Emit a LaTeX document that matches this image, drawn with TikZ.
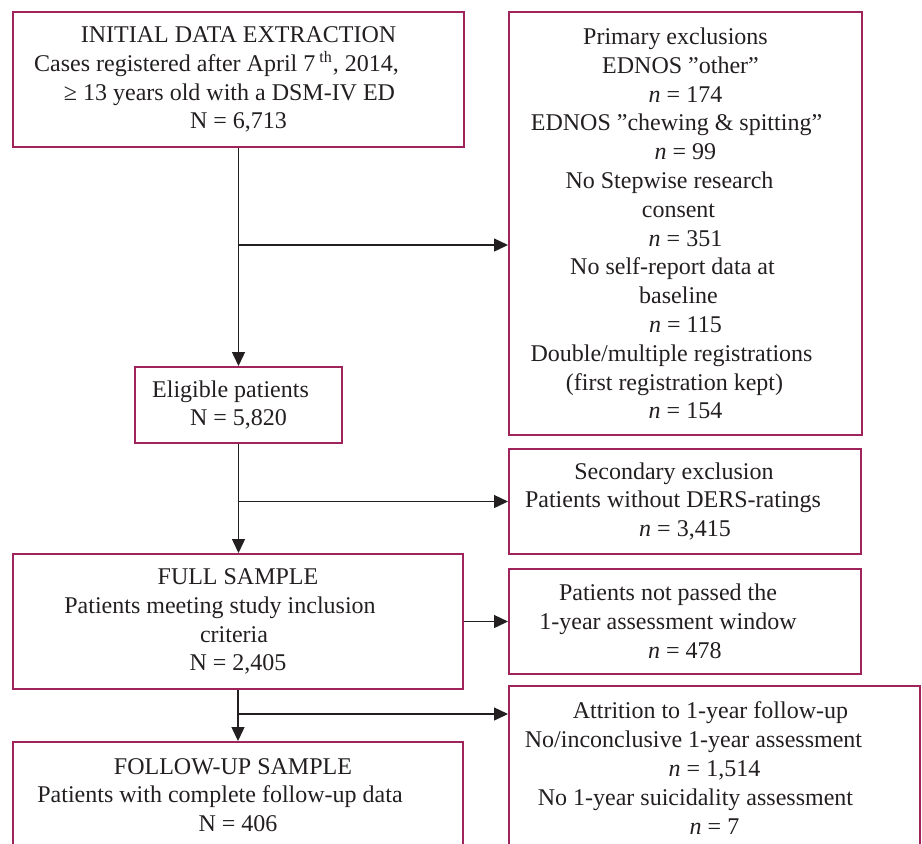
\documentclass[tikz,border=0pt]{standalone}
\usepackage{fontspec}
\setmainfont{Liberation Serif}
\usetikzlibrary{arrows.meta}
\definecolor{boxred}{RGB}{160,36,92}
\definecolor{linegray}{RGB}{35,31,32}
% a centred line pulled to the left by #1 px
\newcommand\lsh[2]{\mbox{#2\hspace*{#1pt}}}
\tikzset{
  box/.style={draw=boxred, line width=1pt, rectangle, align=center, inner sep=0pt,
    text=linegray, font=\fontsize{12}{14.4}\selectfont},
  arr/.style={draw=linegray, line width=0.7pt, -{Triangle[length=7pt,width=6.5pt]}}
}
\begin{document}
\begin{tikzpicture}[x=0.5pt,y=-0.5pt]
    \path[use as bounding box, clip] (0,0) rectangle (922,843);
    % left column
    \node[box, minimum width=225.5pt, minimum height=67.5pt] (init) at (238.5,79.5)
      {INITIAL DATA EXTRACTION\\ \lsh{22}{Cases registered after April 7\,\textsuperscript{th}, 2014,}\\ \lsh{9}{≥ 13 years old with a DSM-IV ED}\\ N = 6,713};
    \node[box, minimum width=103.5pt, minimum height=38pt] (elig) at (238.5,405)
      {\lsh{8}{Eligible patients}\\ N = 5,820};
    \node[box, minimum width=225pt, minimum height=67.5pt] (full) at (238,621.5)
      {FULL SAMPLE\\ \lsh{18}{Patients meeting study inclusion}\\ \lsh{4}{criteria}\\ N = 2,405};
    \node[box, minimum width=225pt, minimum height=53pt] (fu) at (238,795)
      {\lsh{5}{FOLLOW-UP SAMPLE}\\ \lsh{18}{Patients with complete follow-up data}\\ N = 406};
    % right column
    \node[box, minimum width=176.5pt, minimum height=211.5pt] (prim) at (685.5,223.5)
      {\lsh{10}{Primary exclusions}\\ \lsh{5}{EDNOS ”other”}\\ \textit{n} = 174\\ \lsh{9}{EDNOS ”chewing \& spitting”}\\ \textit{n} = 99\\
       \lsh{16}{No Stepwise research}\\ \lsh{7}{consent}\\ \textit{n} = 351\\ \lsh{13}{No self-report data at}\\ \lsh{7}{baseline}\\ \textit{n} = 115\\
       \lsh{14}{Double/multiple registrations}\\ \lsh{11}{(first registration kept)}\\ \textit{n} = 154};
    \node[box, minimum width=176pt, minimum height=52.5pt] (sec) at (685,501.5)
      {\lsh{11}{Secondary exclusion}\\ \lsh{12}{Patients without DERS-ratings}\\ \textit{n} = 3,415};
    \node[box, minimum width=176pt, minimum height=52.5pt] (notp) at (685,621.5)
      {\lsh{17}{Patients not passed the}\\ \lsh{17}{1-year assessment window}\\ \textit{n} = 478};
    \node[box, minimum width=205.5pt, minimum height=82pt] (att) at (714.5,768)
      {\lsh{4}{Attrition to 1-year follow-up}\\ \lsh{21}{No/inconclusive 1-year assessment}\\ \textit{n} = 1,514\\ \lsh{19}{No 1-year suicidality assessment}\\ \textit{n} = 7};
    % connectors
    \coordinate (b1) at (238.5,245);
    \coordinate (b3) at (238,714);
    \draw[arr] (init.south) -- (elig.north);
    \draw[arr] (b1) -- (b1 -| prim.west);
    \draw[arr] (elig.south) -- (elig.south |- full.north);
    \draw[arr] (elig.south |- sec.west) -- (sec.west);
    \draw[arr] (full.east) -- (notp.west);
    \draw[arr] (full.south) -- (fu.north);
    \draw[arr] (b3) -- (b3 -| att.west);
\end{tikzpicture}
\end{document}
